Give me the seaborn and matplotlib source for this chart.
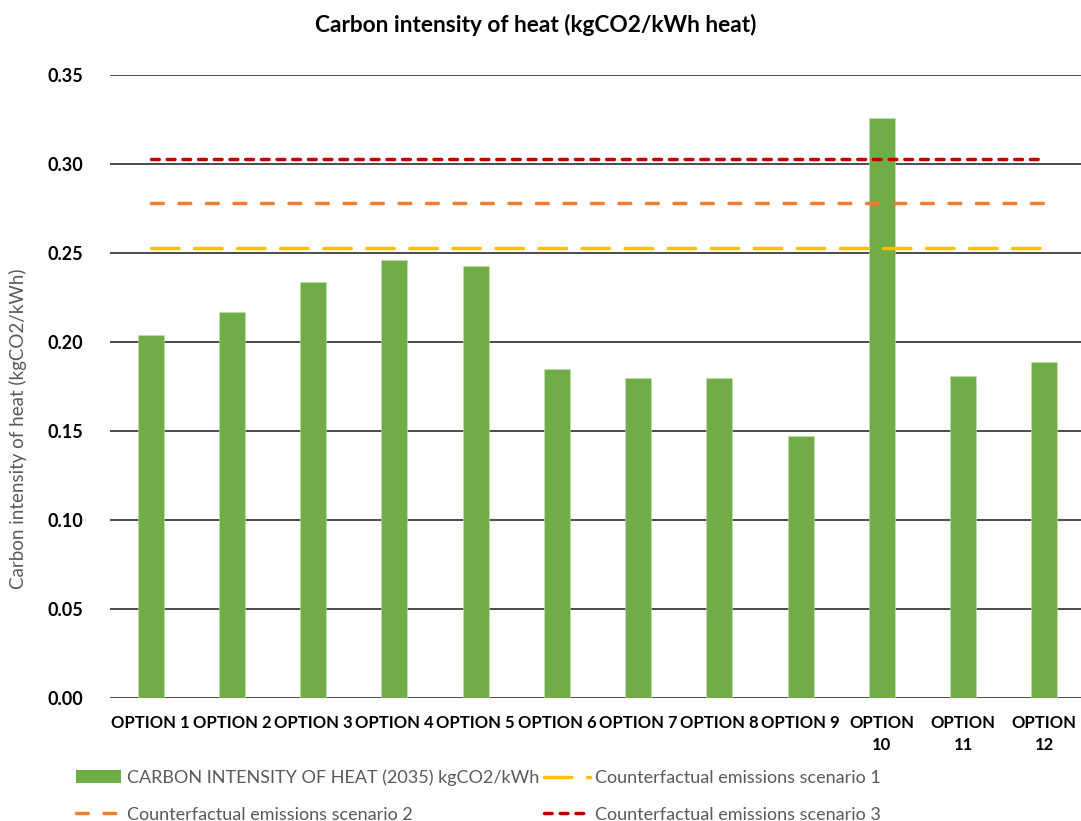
import numpy as np
import pandas as pd
import matplotlib
matplotlib.use("Agg")
import matplotlib.pyplot as plt
from matplotlib.lines import Line2D
from matplotlib.patches import Patch
import seaborn as sns

# ---- data ----
options = ["OPTION 1", "OPTION 2", "OPTION 3", "OPTION 4", "OPTION 5", "OPTION 6",
           "OPTION 7", "OPTION 8", "OPTION 9", "OPTION\n10", "OPTION\n11", "OPTION\n12"]
carbon_intensity_2035 = [0.204, 0.217, 0.2335, 0.246, 0.2425, 0.185,
                         0.180, 0.1795, 0.147, 0.326, 0.181, 0.1885]
counterfactual_1 = 0.253
counterfactual_2 = 0.278
counterfactual_3 = 0.303
y_ticks = [0.00, 0.05, 0.10, 0.15, 0.20, 0.25, 0.30, 0.35]

bar_label = "CARBON INTENSITY OF HEAT (2035) kgCO2/kWh"
scenario_labels = ["Counterfactual emissions scenario 1",
                   "Counterfactual emissions scenario 2",
                   "Counterfactual emissions scenario 3"]

GREEN = "#70AD47"
YELLOW = "#FFC000"
ORANGE = "#ED7D31"
RED = "#C00000"
GREY_TEXT = "#595959"

sns.set_theme(style="white")
plt.rcParams["font.family"] = ["Lato", "DejaVu Sans"]
plt.rcParams["lines.scale_dashes"] = False

df = pd.DataFrame({"option": options, "value": carbon_intensity_2035})

fig = plt.figure(figsize=(10.81, 8.21), dpi=100)
ax = fig.add_axes([110 / 1081, 1 - 698 / 821, 975 / 1081, (698 - 75) / 821])

sns.barplot(data=df, x="option", y="value", color=GREEN, width=0.32,
            saturation=1, ax=ax, zorder=2, edgecolor="#c5e0b4", linewidth=0.4)

# horizontal gridlines
ax.set_ylim(0, 0.35)
ax.set_xlim(-0.5, len(options) - 0.5)
ax.set_yticks(y_ticks)
ax.set_yticklabels([f"{t:.2f}" for t in y_ticks])
for t in y_ticks:
    ax.axhline(t, color="#1a1a1a", lw=1.1, zorder=1)

# counterfactual scenario lines across the categories
xs = np.arange(len(options))
DASH_1 = (0, (19.8, 11.2))
DASH_2 = (0, (8.5, 11.3))
DASH_3 = (0, (5.6, 5.7))
line_styles = [
    (counterfactual_1, YELLOW, DASH_1),
    (counterfactual_2, ORANGE, DASH_2),
    (counterfactual_3, RED, DASH_3),
]
for val, col, ls in line_styles:
    ax.plot(xs, [val] * len(xs), color=col, lw=2.5, linestyle=ls,
            dash_capstyle="round", zorder=3)

for s in ax.spines.values():
    s.set_visible(False)
ax.tick_params(axis="both", length=0)
ax.tick_params(axis="y", pad=19)
ax.tick_params(axis="x", pad=12)
ax.set_xlabel("")
ax.set_ylabel("")
for lbl in ax.get_yticklabels():
    lbl.set_fontweight("bold")
    lbl.set_fontsize(13)
    lbl.set_color("black")
for lbl in ax.get_xticklabels():
    lbl.set_fontweight("bold")
    lbl.set_fontsize(12)
    lbl.set_color("black")
    lbl.set_linespacing(1.5)

fig.text(536 / 1081, 1 - 25 / 821, "Carbon intensity of heat (kgCO2/kWh heat)",
         ha="center", va="center", fontsize=16.3, fontweight="bold", color="black")
fig.text(18 / 1081, 1 - 429 / 821, "Carbon intensity of heat (kgCO2/kWh)",
         ha="center", va="center", rotation=90, fontsize=13.5, color=GREY_TEXT)

handles = [
    Patch(facecolor=GREEN, edgecolor="none"),
    Line2D([0], [0], color=ORANGE, lw=2.5, linestyle=DASH_2, dash_capstyle="round"),
    Line2D([0], [0], color=YELLOW, lw=2.5, linestyle=DASH_1, dash_capstyle="round"),
    Line2D([0], [0], color=RED, lw=2.5, linestyle=DASH_3, dash_capstyle="round"),
]
labels = [bar_label, scenario_labels[1], scenario_labels[0], scenario_labels[2]]
leg = fig.legend(handles, labels, ncol=2, loc="center left",
                 bbox_to_anchor=(60 / 1081, 1 - 796 / 821), frameon=False,
                 fontsize=13, handlelength=2.5, handletextpad=0.3,
                 columnspacing=0.3, labelspacing=1.15)
for t in leg.get_texts():
    t.set_color(GREY_TEXT)

fig.savefig("out.png", dpi=100)
